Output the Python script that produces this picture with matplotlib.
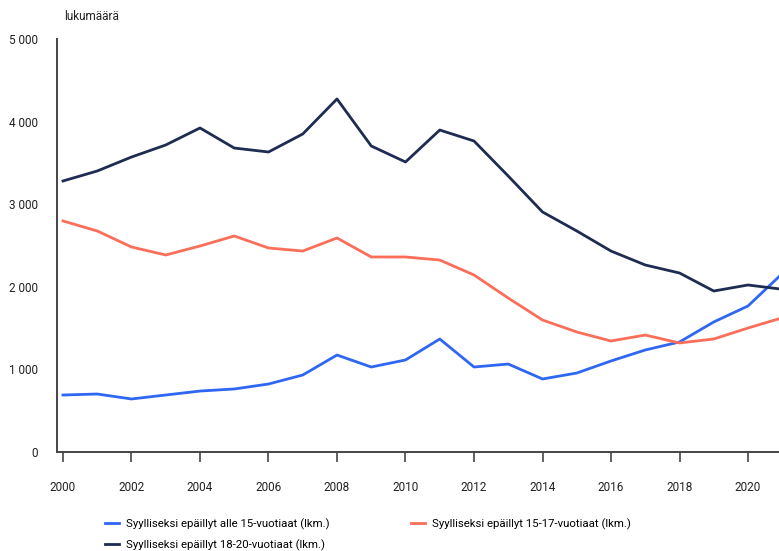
import numpy as np
import matplotlib
matplotlib.use("Agg")
import matplotlib.pyplot as plt

plt.rcParams['font.family'] = ['Roboto', 'DejaVu Sans']

years = list(range(2000, 2022))

# Syylliseksi epäillyt alle 15-vuotiaat
alle15 = [690, 702, 642, 690, 738, 763, 823, 932, 1174, 1029, 1114,
          1368, 1029, 1065, 884, 956, 1102, 1235, 1332, 1574, 1768, 2160]
# 15-17-vuotiaat
v15_17 = [2797, 2676, 2482, 2385, 2494, 2615, 2470, 2433, 2591, 2361, 2361,
          2324, 2143, 1864, 1598, 1453, 1344, 1416, 1320, 1368, 1501, 1625]
# 18-20-vuotiaat
v18_20 = [3281, 3402, 3571, 3717, 3923, 3680, 3632, 3850, 4274, 3705, 3511,
          3898, 3765, 3341, 2906, 2676, 2433, 2264, 2167, 1949, 2022, 1970]

labels = ['Syylliseksi epäillyt alle 15-vuotiaat (lkm.)',
          'Syylliseksi epäillyt 15-17-vuotiaat (lkm.)',
          'Syylliseksi epäillyt 18-20-vuotiaat (lkm.)']

fig = plt.figure(figsize=(7.79, 5.51), dpi=100)
ax = fig.add_axes([57/779, 1-452/551, 1-57/779, (452-39)/551])

l1, = ax.plot(years, alle15, color='#2f66f2', lw=2, label=labels[0])
l2, = ax.plot(years, v15_17, color='#fa6e5a', lw=2, label=labels[1])
l3, = ax.plot(years, v18_20, color='#1e2c52', lw=2, label=labels[2])

ax.set_xlim(1999.825, 2020.905)
ax.set_ylim(0, 5000)
ax.set_xticks(range(2000, 2021, 2))
ax.set_yticks(range(0, 5001, 1000))
ax.set_yticklabels([f'{v:,}'.replace(',', ' ') for v in range(0, 5001, 1000)])

for s in ['top', 'right']:
    ax.spines[s].set_visible(False)
for s in ['left', 'bottom']:
    ax.spines[s].set_color('#444444')
    ax.spines[s].set_linewidth(1.4)

ax.tick_params(axis='y', length=0, pad=14, labelsize=8.5, colors='#222222')
ax.tick_params(axis='x', length=7, width=1.2, color='#444444', pad=14,
               labelsize=8.5, labelcolor='#222222')

fig.text(64/779, 1-16/551, 'lukumäärä', fontsize=8.5, color='#222222', va='center')

fig.legend([l1, l3, l2], [labels[0], labels[2], labels[1]], ncol=2,
           loc='upper left', bbox_to_anchor=(95/779, 1-508/551),
           frameon=False, fontsize=8.2, handlelength=1.2, handletextpad=0.6,
           columnspacing=7.2, labelspacing=0.85)

fig.savefig('out.png', dpi=100)
